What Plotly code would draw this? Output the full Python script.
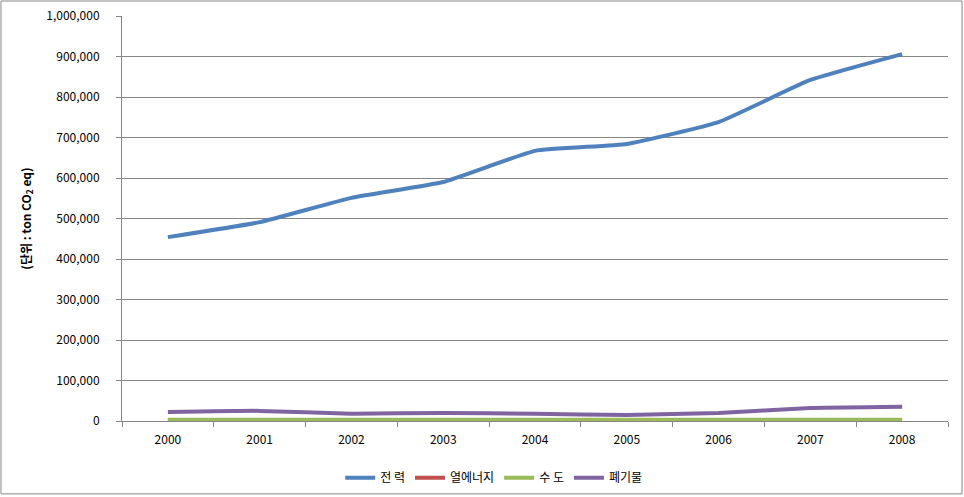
import plotly.graph_objects as go

years = ["2000", "2001", "2002", "2003", "2004", "2005", "2006", "2007", "2008"]

# 배출량 (ton CO2 eq)
power = [454000, 491000, 551000, 590000, 667000, 684000, 738000, 842000, 906000]
heat = [1000, 1000, 1000, 1000, 1000, 1000, 1000, 1000, 1000]
water = [3000, 3000, 3000, 3000, 3000, 3000, 3000, 3000, 3000]
waste = [22000, 25000, 18000, 20000, 18000, 15000, 20000, 32000, 35000]

series = [
    ("전 력", power, "#4F81BD"),
    ("열에너지", heat, "#C0504D"),
    ("수 도", water, "#9BBB59"),
    ("폐기물", waste, "#8064A2"),
]

font_kr = "Noto Sans CJK KR, DejaVu Sans, sans-serif"

fig = go.Figure()
for name, vals, color in series:
    fig.add_trace(go.Scatter(
        x=years,
        y=vals,
        mode="lines",
        name=name,
        line=dict(color=color, width=4, shape="spline", smoothing=0.4),
    ))

fig.update_layout(
    width=964,
    height=497,
    margin=dict(l=122, r=16, t=16, b=76, autoexpand=False),
    paper_bgcolor="white",
    plot_bgcolor="white",
    font=dict(family=font_kr, size=12, color="black"),
    showlegend=True,
    legend=dict(
        orientation="h",
        x=0.45, xanchor="center",
        y=-0.14, yanchor="middle",
        font=dict(size=12),
    ),
    xaxis=dict(
        type="category",
        range=[-0.5, 8.5],
        automargin=False,
        showline=True, linecolor="#868686", linewidth=1,
        ticks="outside", tickson="boundaries", ticklen=5, tickcolor="#868686",
        ticklabelstandoff=8,
        showgrid=False,
        tickfont=dict(size=12),
    ),
    yaxis=dict(
        range=[0, 1000000],
        dtick=100000,
        tickformat=",d",
        automargin=False,
        showline=True, linecolor="#868686", linewidth=1,
        ticks="outside", ticklen=5, tickcolor="#868686",
        ticklabelstandoff=14,
        showgrid=True, gridcolor="#868686", gridwidth=1,
        zeroline=False,
        tickfont=dict(size=12),
        title=dict(text="<b>(단위 : ton CO<sub>2</sub> eq)</b>", font=dict(size=12), standoff=12),
    ),
    shapes=[dict(
        type="rect", xref="paper", yref="paper",
        x0=-0.1465, x1=1.017, y0=-0.18, y1=1.037,
        line=dict(color="#868686", width=1),
    )],
)

fig.write_html(
    "out.html",
    config={"displayModeBar": False},
    post_script="document.body.style.margin='0';",
)
